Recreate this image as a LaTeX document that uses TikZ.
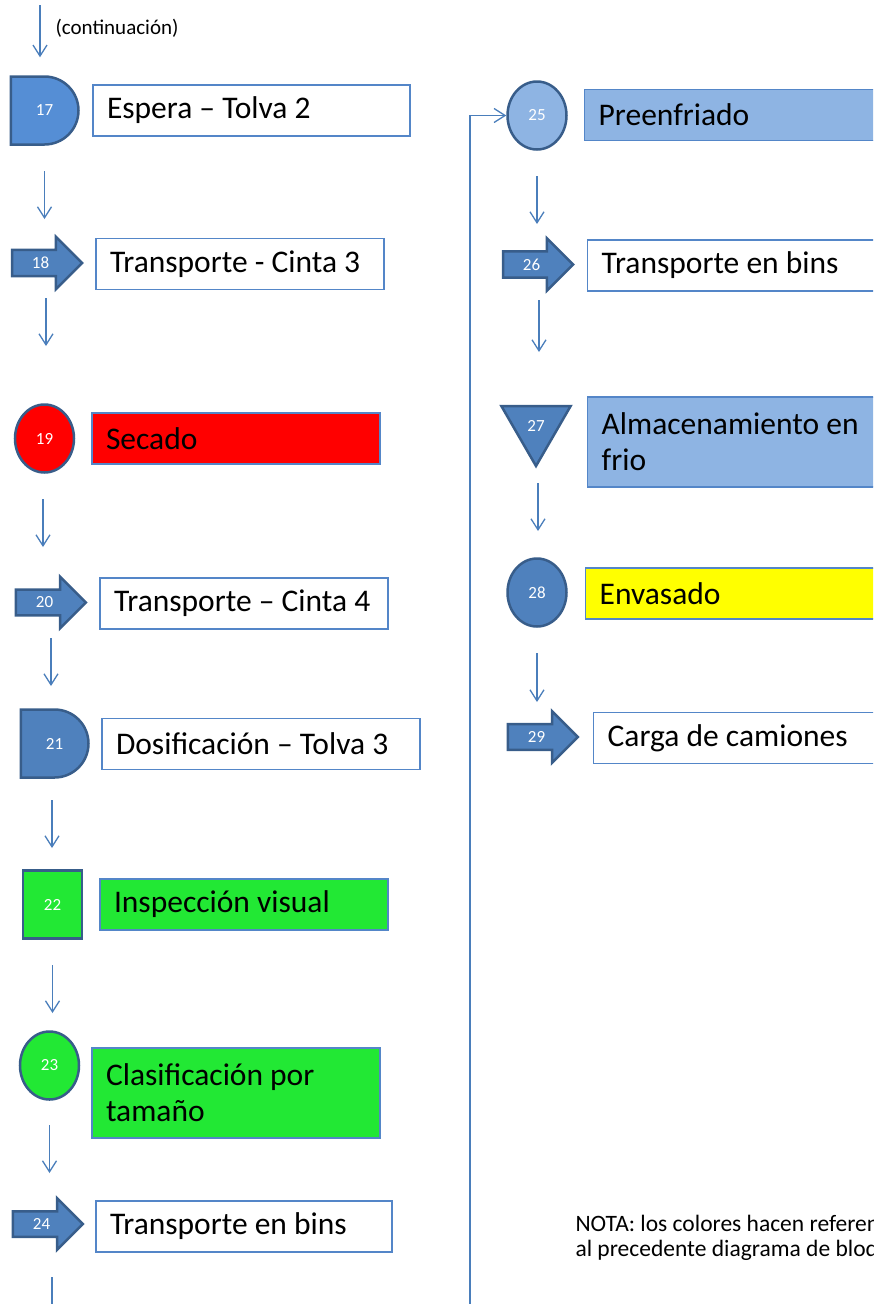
\documentclass[tikz,border=0pt]{standalone}
\usepackage{fontspec}
\setmainfont{Carlito}
\usepackage{xcolor}
\usepackage{tikz}
\usetikzlibrary{arrows.meta}
\usetikzlibrary{shapes.geometric, shapes.arrows, shapes.misc}

\definecolor{azullinea}{RGB}{74,126,187}
\definecolor{bordesimb}{RGB}{56,93,138}
\definecolor{bordecaja}{RGB}{84,134,200}
\definecolor{azulmedio}{RGB}{79,129,189}
\definecolor{azulvivo}{RGB}{85,142,213}
\definecolor{azulpastel}{RGB}{142,180,227}
\definecolor{verdeproc}{RGB}{34,232,52}
\definecolor{rojoproc}{RGB}{255,0,0}
\definecolor{amarilloproc}{RGB}{255,255,0}

\begin{document}
\begin{tikzpicture}[x=1pt, y=-1pt,
    flecha/.style={draw=azullinea, line width=1.3pt, -{Straight Barb[length=11pt,width=14pt]}},
    simbolo/.style={draw=bordesimb, line width=2.5pt, fill=azulmedio, text=white,
        font=\fontsize{17}{20}\selectfont, inner sep=0pt},
    espera/.style={simbolo, rounded rectangle, rounded rectangle left arc=none,
        minimum width=57pt, minimum height=68pt},
    operacion/.style={simbolo, ellipse, minimum width=59pt, minimum height=68pt},
    inspeccion/.style={simbolo, rectangle, minimum width=59pt, minimum height=68pt},
    transporte/.style={simbolo, single arrow, single arrow head extend=13pt,
        inner ysep=6pt, inner xsep=3pt, minimum height=70pt},
    almacen/.style={simbolo, regular polygon, regular polygon sides=3,
        shape border rotate=180, minimum size=80pt},
    caja/.style={draw=bordecaja, line width=1.4pt, fill=white, inner xsep=14pt,
        align=flush left, minimum height=51pt, font=\fontsize{31.5}{36}\selectfont}]

    % marco de la imagen
    \path[use as bounding box, clip] (0,0) rectangle (873,1304);

    % columna izquierda
    \coordinate (inicio) at (40,5);
    \node[anchor=west, font=\fontsize{21}{25}\selectfont] (cont) at (52,28) {(continuación)};

    \node[espera, fill=azulvivo] (s17) at (44.5,110.5) {17};
    \node[caja, text width=289pt] (b17) at (251.5,110.5) {Espera -- Tolva 2};

    \node[transporte] (s18) at (40.5,263) {18};
    \node[caja, text width=260pt] (b18) at (240,264) {Transporte - Cinta 3};

    \node[operacion, fill=rojoproc] (s19) at (44.5,438.5) {19};
    \node[caja, fill=rojoproc, text width=260pt] (b19) at (236,438.5) {Secado};

    \node[transporte] (s20) at (44.5,602.5) {20};
    \node[caja, text width=260pt] (b20) at (244,603.5) {Transporte -- Cinta 4};

    \node[espera] (s21) at (54.5,743.5) {21};
    \node[caja, text width=290pt] (b21) at (261,744) {Dosificación -- Tolva 3};

    \node[inspeccion, fill=verdeproc] (s22) at (52.5,904.5) {22};
    \node[caja, fill=verdeproc, text width=260pt] (b22) at (244,904.5) {Inspección visual};

    \node[operacion, fill=verdeproc] (s23) at (49.5,1065.5) {23};
    \node[caja, fill=verdeproc, text width=260pt, minimum height=90pt] (b23) at (236,1093)
        {Clasificación por\\tamaño};

    \node[transporte] (s24) at (41.5,1224) {24};
    \node[caja, text width=268pt] (b24) at (244,1226.5) {Transporte en bins};

    % columna derecha
    \node[operacion, fill=azulpastel] (s25) at (537,115.5) {25};
    \node[caja, fill=azulpastel, anchor=west, text width=302pt] (b25) at (584,115) {Preenfriado};

    \node[transporte] (s26) at (531.5,264.5) {26};
    \node[caja, anchor=west, text width=302pt] (b26) at (587,265.5) {Transporte en bins};

    \node[almacen] (s27) at (536,426) {27};
    \node[caja, fill=azulpastel, anchor=west, text width=302pt, minimum height=90pt] (b27)
        at (587,442) {Almacenamiento en\\frio};

    \node[operacion] (s28) at (537,592.5) {28};
    \node[caja, fill=amarilloproc, anchor=west, text width=302pt] (b28) at (585,593.5) {Envasado};

    \node[transporte] (s29) at (536.5,737) {29};
    \node[caja, anchor=west, text width=302pt] (b29) at (593,738) {Carga de camiones};

    \node[anchor=west, align=flush left, font=\fontsize{23.5}{25}\selectfont] (nota) at (572,1238)
        {NOTA: los colores hacen referencia\\al precedente diagrama de bloques};

    % flechas entre pasos
    \draw[flecha, shorten >=18pt] (inicio) -- (inicio |- s17.north);
    \foreach \a/\b/\o/\d/\e in {17/18/0/60.5/44, 18/19/5.5/35/92.5, 19/20/-1.5/60.5/55.5,
        20/21/6.5/35.5/57.5, 21/22/-2.5/56.5/56.5, 22/23/0/60.5/52.5, 23/24/0/59.5/51,
        25/26/0/60.5/40.5, 26/27/7.5/35.5/74, 27/28/2/57/61.5, 28/29/0/60.5/35}
        \draw[flecha, shorten <=\d pt, shorten >=\e pt]
            ([xshift=\o pt]s\a.center) -- ([xshift=\o pt]s\a.center |- s\b.center);

    % retorno hacia la columna derecha
    \coordinate (giro) at (470,1330);
    \draw[flecha] ([xshift=10.5pt, yshift=-53pt]s24.center) |- (giro) |- (s25.west);
\end{tikzpicture}
\end{document}
